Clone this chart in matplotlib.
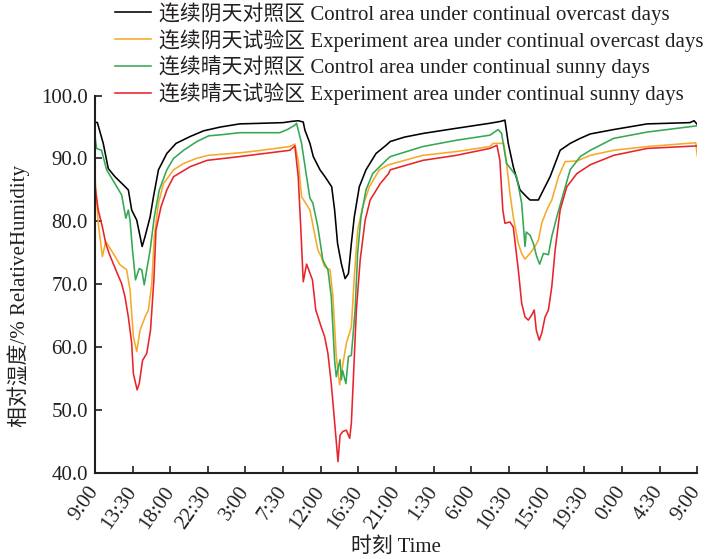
import matplotlib
matplotlib.use("Agg")
import matplotlib.pyplot as plt

plt.rcParams["font.family"] = ["Liberation Serif", "Noto Sans CJK SC"]
plt.rcParams["axes.unicode_minus"] = False

# hours since 9:00 on day 1, relative humidity (%)
ctrl_overcast_t = [0, 0.3, 1.0, 1.6, 2.4, 3.4, 4.0, 4.4, 5.0, 5.65, 6.0, 6.6, 7.0, 7.6, 8.6, 9.7,
                   11.4, 13.0, 15.0, 17.3, 20.0, 22.5, 23.5, 24.3, 24.9, 25.1, 25.7, 26.1, 26.9,
                   27.5, 28.3, 28.65, 29.0, 29.45, 29.9, 30.3, 30.65, 31.0, 31.6, 32.4, 33.6,
                   34.8, 35.3, 37.0, 39.3, 43.2, 47.2, 48.5, 49.0, 49.4, 50.0, 50.8, 51.6, 52.0,
                   53.0, 53.6, 54.4, 55.6, 56.8, 58.0, 59.2, 62.0, 66.0, 71.1, 71.6, 72.0]
ctrl_overcast_rh = [95.8, 95.7, 92.4, 88.4, 87.1, 85.8, 85.0, 81.8, 80.2, 76.0, 77.6, 80.7, 83.9,
                    88.2, 90.8, 92.4, 93.5, 94.4, 95.0, 95.5, 95.6, 95.7, 95.9, 96.0, 95.8, 94.5,
                    92.4, 90.3, 88.2, 87.1, 85.5, 81.8, 76.5, 73.3, 70.9, 71.7, 76.5, 80.7, 85.5,
                    88.2, 90.8, 92.1, 92.7, 93.4, 94.0, 94.8, 95.6, 95.9, 96.1, 92.4, 88.7, 85.0,
                    83.9, 83.4, 83.4, 85.0, 87.1, 91.3, 92.4, 93.2, 93.9, 94.6, 95.5, 95.7, 96.0,
                    95.4]

exp_overcast_t = [0, 0.4, 0.9, 1.3, 2.2, 3.0, 3.8, 4.2, 4.6, 5.0, 5.4, 6.0, 6.4, 6.8, 7.1, 7.6,
                  8.2, 9.4, 10.6, 12.1, 13.55, 17.3, 19.3, 23.3, 23.9, 24.3, 24.7, 25.1, 25.7,
                  26.1, 26.65, 27.05, 27.45, 28.1, 28.45, 28.85, 29.25, 29.65, 30.05, 30.65,
                  31.0, 31.4, 32.0, 32.8, 34.0, 35.1, 39.2, 43.2, 47.2, 47.6, 48.85, 49.2, 49.6,
                  50.0, 50.6, 51.0, 51.4, 52.0, 52.6, 53.0, 53.4, 54.0, 54.6, 55.4, 56.2, 57.6,
                  59.2, 62.0, 66.0, 71.8, 72.0]
exp_overcast_rh = [87.4, 79.7, 74.4, 76.8, 74.9, 73.1, 72.3, 69.1, 61.7, 59.3, 62.7, 64.8, 65.9,
                   70.1, 77.6, 82.9, 86.0, 88.2, 89.2, 90.0, 90.5, 90.9, 91.2, 91.9, 92.3, 89.7,
                   83.9, 83.1, 81.8, 79.1, 75.4, 74.4, 72.8, 72.3, 68.0, 58.5, 54.0, 57.4, 60.6,
                   63.2, 71.2, 78.6, 82.3, 85.5, 88.2, 89.0, 90.5, 91.1, 91.9, 92.4, 92.4, 89.2,
                   84.5, 80.7, 76.5, 74.9, 74.0, 74.9, 76.0, 77.0, 79.7, 81.8, 83.4, 87.1, 89.5,
                   89.6, 90.5, 91.3, 91.9, 92.5, 90.4]

ctrl_sunny_t = [0, 0.2, 0.8, 1.4, 2.4, 3.2, 3.7, 4.0, 4.2, 4.5, 4.85, 5.3, 5.6, 5.9, 6.2, 6.6,
                7.1, 7.7, 8.6, 9.4, 10.6, 12.2, 13.6, 15.3, 17.3, 22.1, 23.0, 23.9, 24.1, 24.7,
                25.3, 25.7, 26.05, 26.65, 27.25, 27.85, 28.25, 28.65, 28.85, 29.1, 29.3, 29.45,
                29.6, 30.0, 30.3, 30.65, 31.1, 31.4, 31.8, 32.4, 33.2, 34.8, 35.3, 39.2, 43.2,
                47.2, 48.2, 48.6, 49.2, 49.8, 50.4, 51.0, 51.4, 51.55, 52.0, 52.4, 52.8, 53.15,
                53.6, 54.2, 54.6, 55.2, 56.0, 56.8, 58.0, 59.2, 62.0, 66.0, 72.0]
ctrl_sunny_rh = [93.7, 91.6, 91.3, 88.2, 86.0, 84.2, 80.5, 81.8, 80.2, 75.4, 70.7, 72.5, 72.3,
                 69.9, 72.3, 75.4, 80.7, 85.0, 88.2, 90.0, 91.3, 92.7, 93.6, 93.8, 94.1, 94.1,
                 94.6, 95.3, 95.6, 92.4, 87.1, 83.7, 82.9, 79.1, 73.8, 72.3, 68.0, 57.9, 55.3,
                 56.9, 58.0, 54.8, 56.3, 54.2, 58.5, 58.7, 65.9, 74.9, 80.7, 85.0, 87.6, 89.7,
                 90.3, 91.9, 92.9, 93.7, 94.6, 94.0, 89.2, 88.2, 87.1, 82.9, 76.0, 78.3, 77.8,
                 76.5, 74.4, 73.2, 74.9, 74.7, 77.6, 80.7, 84.5, 88.2, 90.3, 91.3, 93.2, 94.2,
                 95.2]

exp_sunny_t = [0, 0.4, 0.9, 1.3, 1.7, 2.5, 3.2, 3.6, 4.0, 4.4, 4.6, 5.05, 5.3, 5.7, 6.2, 6.65,
               7.05, 7.3, 7.9, 8.6, 9.4, 11.4, 13.4, 17.3, 23.3, 23.9, 24.3, 24.6, 24.9, 25.3,
               26.0, 26.4, 27.05, 27.45, 27.85, 28.25, 28.7, 29.05, 29.3, 29.65, 30.05, 30.45,
               30.65, 30.9, 31.25, 31.7, 32.3, 32.9, 34.1, 35.1, 35.3, 39.2, 43.2, 47.2, 48.05,
               48.4, 48.75, 49.0, 49.6, 50.0, 50.6, 51.0, 51.4, 51.8, 52.2, 52.5, 52.75, 53.1,
               53.4, 53.8, 54.2, 54.6, 55.0, 55.6, 56.4, 57.6, 59.2, 62.0, 66.0, 72.0]
exp_sunny_rh = [85.8, 81.8, 79.1, 76.5, 74.9, 72.3, 70.1, 68.0, 64.8, 60.6, 55.8, 53.2, 54.2,
                57.9, 59.0, 62.7, 70.7, 78.6, 82.3, 85.0, 87.1, 88.7, 89.7, 90.3, 91.3, 92.0,
                87.1, 79.1, 70.4, 73.2, 70.7, 65.9, 63.2, 61.7, 59.0, 54.2, 47.3, 41.8, 46.0,
                46.6, 46.8, 45.5, 47.9, 55.3, 65.9, 73.8, 80.2, 83.4, 86.0, 87.6, 88.2, 89.7,
                90.5, 91.6, 92.1, 89.7, 81.8, 79.7, 79.9, 79.1, 72.3, 67.0, 64.8, 64.3, 65.1,
                65.9, 62.7, 61.1, 62.2, 64.8, 65.9, 69.6, 75.4, 81.8, 85.5, 87.6, 89.0, 90.5,
                91.6, 92.0]

tick_labels = ["9:00", "13:30", "18:00", "22:30", "3:00", "7:30", "12:00", "16:30", "21:00",
               "1:30", "6:00", "10:30", "15:00", "19:30", "0:00", "4:30", "9:00"]

labels = [
    "连续阴天对照区 Control area under continual overcast days",
    "连续阴天试验区 Experiment area under continual overcast days",
    "连续晴天对照区 Control area under continual sunny days",
    "连续晴天试验区 Experiment area under continual sunny days",
]
colors = ["#000000", "#F5AA2A", "#34A853", "#E8242B"]
text_c = "#231f20"

fig = plt.figure(figsize=(7.08, 5.59), dpi=100)
ax = fig.add_axes([0.134, 0.154, 0.851, 0.675])

series = [(ctrl_overcast_t, ctrl_overcast_rh), (exp_overcast_t, exp_overcast_rh),
          (ctrl_sunny_t, ctrl_sunny_rh), (exp_sunny_t, exp_sunny_rh)]
for (t, rh), lab, c in zip(series, labels, colors):
    ax.plot(t, rh, color=c, lw=1.15, label=lab)

ax.set_xlim(0, 72)
ax.set_ylim(40, 100)
ax.set_xticks([i * 4.5 for i in range(len(tick_labels))])
ax.set_xticklabels(tick_labels, rotation=55, ha="right", va="center", rotation_mode="anchor")
ax.set_yticks(range(40, 101, 10))
ax.set_yticklabels([f"{v:.1f}" for v in range(40, 101, 10)])
ax.tick_params(direction="in", length=5, width=1.2, labelsize=15, colors=text_c)
ax.tick_params(axis="x", pad=11)
ax.tick_params(axis="y", pad=5)
for s in ["top", "right"]:
    ax.spines[s].set_visible(False)
for s in ["left", "bottom"]:
    ax.spines[s].set_linewidth(1.5)
    ax.spines[s].set_color(text_c)

ax.set_xlabel("时刻 Time", fontsize=15, color=text_c, labelpad=3)
ax.set_ylabel("相对湿度/% RelativeHumidity", fontsize=15, color=text_c)
ax.yaxis.set_label_coords(-0.108, 0.47)

fig.legend(loc="upper left", bbox_to_anchor=(0.16, 1.0), frameon=False, fontsize=15,
           handlelength=1.7, handletextpad=0.4, labelspacing=0.2, borderaxespad=0,
           borderpad=0.1, labelcolor=text_c)

fig.savefig("out.png", dpi=100)
